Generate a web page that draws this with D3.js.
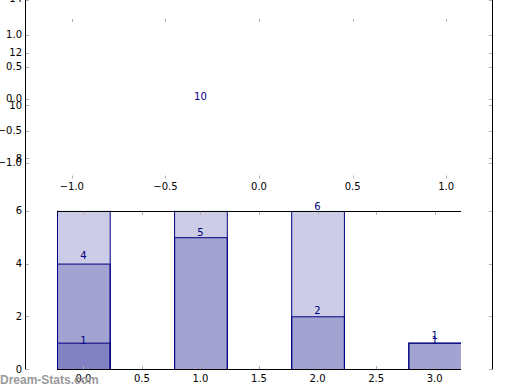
<!DOCTYPE html>
<html><head><meta charset="utf-8">
<script src="https://cdn.jsdelivr.net/npm/d3@7"></script>
<style>body{margin:0;background:#fff}svg{display:block}text{font-family:"DejaVu Sans",sans-serif}</style>
</head><body><svg id="c" width="520" height="390"></svg>
<script>
// ---- data ----
const categories = [0, 1, 2, 3];
const seriesA = [1, 5, 2, 1];
const seriesB = [4, 10, 6, 1];
const seriesC = [8, null, null, null];
const labelBar = [0, 0, 1, 1, 2, 2, 3, 3];
const labelText = ["1", "4", "5", "10", "2", "6", "1", "1"];
const labelAt = [0.96, 4.17, 5.05, 10.2, 2.1, 6.03, 1.12, 0.96];
const outerYTicks = [0, 2, 4, 6, 8, 10, 12, 14];
const barXTicks = [0, 0.5, 1, 1.5, 2, 2.5, 3];
const pieTicks = [-1, -0.5, 0, 0.5, 1];

// ---- scales ----
const svg = d3.select("#c");
const y = d3.scaleLinear().domain([0, 14]).range([369, 0]);
const xBar = d3.scaleLinear().domain([-0.225, 3.225]).range([57, 461]);
const xP = d3.scaleLinear().domain([-1.25, 1.25]).range([25, 493]);
const yP = d3.scaleLinear().domain([-1.25, 1.25]).range([178.7, 18.7]);
const fmt = v => (v < 0 ? "\u2212" : "") + Math.abs(v).toFixed(1);
const tickCol = "#b0b0b0";
const navy = "#000080";

// ---- bars (overlaid, translucent) ----
svg.append("clipPath").attr("id", "bc").append("rect")
  .attr("x", 57).attr("y", y(6)).attr("width", 404).attr("height", 369 - y(6));
const gBars = svg.append("g").attr("clip-path", "url(#bc)");
[seriesA, seriesB, seriesC].forEach(s => {
  gBars.selectAll(null).data(categories.filter(i => s[i] != null)).enter().append("rect")
    .attr("x", i => xBar(i - 0.225) + 0.5)
    .attr("width", i => xBar(i + 0.225) - xBar(i - 0.225))
    .attr("y", i => y(s[i]) + 0.5)
    .attr("height", i => y(0) - y(s[i]))
    .attr("fill", navy).attr("fill-opacity", 0.2)
    .attr("stroke", navy).attr("stroke-width", 1);
});

// ---- bar axis frame (top/bottom) and ticks ----
[y(6), y(0)].forEach(yy => svg.append("line")
  .attr("x1", 57).attr("x2", 461).attr("y1", Math.round(yy) + 0.5).attr("y2", Math.round(yy) + 0.5)
  .attr("stroke", "#000"));
barXTicks.forEach(t => {
  const xx = Math.round(xBar(t)) + 0.5;
  svg.append("line").attr("x1", xx).attr("x2", xx).attr("y1", y(0)).attr("y2", y(0) - 3).attr("stroke", tickCol);
  svg.append("line").attr("x1", xx).attr("x2", xx).attr("y1", y(6) + 1).attr("y2", y(6) + 4).attr("stroke", tickCol);
  svg.append("text").attr("x", xBar(t)).attr("y", 381.7).attr("text-anchor", "middle")
    .attr("font-size", 10).attr("fill", "#000").text(t.toFixed(1));
});

// ---- outer axis spines and y ticks ----
[25.5, 492.5].forEach(xx => svg.append("line").attr("x1", xx).attr("x2", xx)
  .attr("y1", 0).attr("y2", 369.5).attr("stroke", "#000"));
outerYTicks.forEach(t => {
  const yy = Math.round(y(t)) + 0.5;
  svg.append("line").attr("x1", 26).attr("x2", 29).attr("y1", yy).attr("y2", yy).attr("stroke", tickCol);
  svg.append("line").attr("x1", 489).attr("x2", 492).attr("y1", yy).attr("y2", yy).attr("stroke", tickCol);
  svg.append("text").attr("x", 22).attr("y", y(t) - (t === 14 ? 1.5 : 0)).attr("dy", "0.36em").attr("text-anchor", "end")
    .attr("font-size", 10).attr("fill", "#000").text(t);
});

// ---- pie-style overlay axis ----
pieTicks.forEach(t => {
  const yy = Math.round(yP(t)) + 0.5;
  svg.append("line").attr("x1", 26).attr("x2", 29).attr("y1", yy).attr("y2", yy).attr("stroke", tickCol);
  svg.append("line").attr("x1", 489).attr("x2", 492).attr("y1", yy).attr("y2", yy).attr("stroke", tickCol);
  svg.append("text").attr("x", 22).attr("y", yP(t)).attr("dy", "0.36em").attr("text-anchor", "end")
    .attr("font-size", 10).attr("fill", "#000").text(fmt(t));
  const xx = Math.round(xP(t)) + 0.5;
  svg.append("line").attr("x1", xx).attr("x2", xx).attr("y1", 19).attr("y2", 22).attr("stroke", tickCol);
  svg.append("line").attr("x1", xx).attr("x2", xx).attr("y1", 175.5).attr("y2", 178.5).attr("stroke", tickCol);
  svg.append("text").attr("x", xP(t)).attr("y", 189.5).attr("text-anchor", "middle")
    .attr("font-size", 10).attr("fill", "#000").text(fmt(t));
});

// ---- bar value labels ----
svg.selectAll(null).data(labelText.map((t, k) => k)).enter().append("text")
  .attr("x", k => xBar(categories[labelBar[k]]))
  .attr("y", k => y(labelAt[k]))
  .attr("text-anchor", "middle").attr("font-size", 10).attr("fill", navy)
  .text(k => labelText[k]);

// ---- watermark ----
svg.append("text").attr("x", 0).attr("y", 384)
  .style("font-family", "'Liberation Sans', Arial, sans-serif").attr("font-weight", "bold")
  .attr("font-size", 12).attr("fill", "#9a9a9a").text("Dream-Stats.com");
</script></body></html>
